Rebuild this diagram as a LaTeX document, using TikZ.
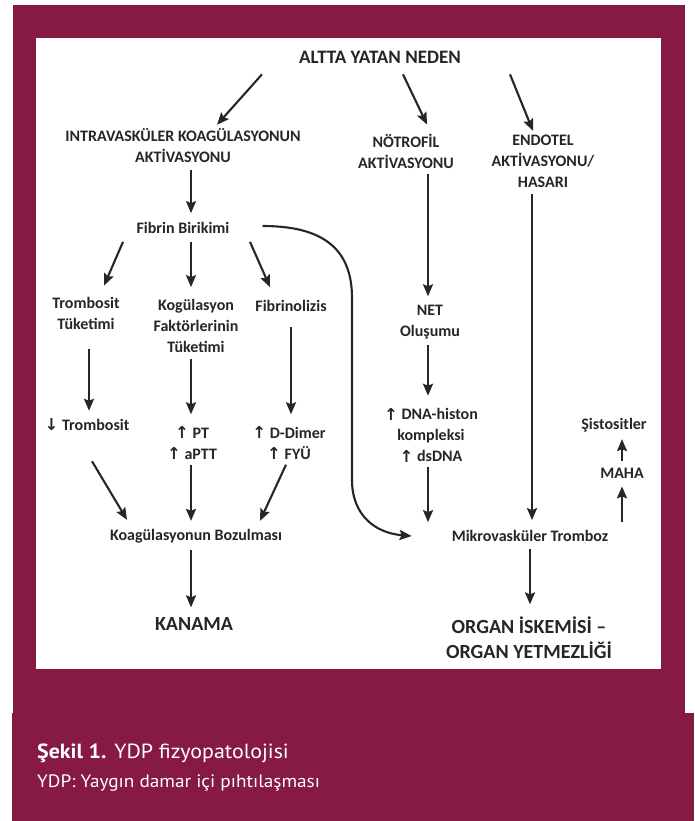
\documentclass[tikz,border=0pt]{standalone}
\usepackage{fontspec}
\setmainfont{Carlito}
\newfontfamily\capwide[FakeStretch=1.07]{PT Sans}
\newfontfamily\arwfont{DejaVu Sans}
\usetikzlibrary{arrows.meta,calc}
\definecolor{frame}{RGB}{134,26,68}
\definecolor{ink}{RGB}{38,38,38}
\newcommand{\up}{{\arwfont\bfseries\fontsize{16.5}{16}\selectfont\raisebox{-0.5pt}{↑}}}
\newcommand{\dn}{{\arwfont\bfseries\fontsize{16.5}{16}\selectfont\raisebox{-0.5pt}{↓}}}
\tikzset{
  lbl/.style={inner sep=0pt, align=center, text=ink, font=\bfseries\fontsize{16}{21}\selectfont},
  big/.style={inner sep=0pt, align=center, text=ink, font=\bfseries\fontsize{20}{25}\selectfont},
  arr/.style={draw=ink, line width=2.1pt, -{Stealth[length=12pt,width=10pt,inset=2pt]}},
  captext/.style={inner sep=0pt, anchor=base west, text=white}
}
\begin{document}
\begin{tikzpicture}[x=1pt,y=-1pt]
% page, frame and white panel
\useasboundingbox (0,0) rectangle (694,821);
\fill[white] (0,0) rectangle (694,821);
\fill[frame] (12.5,5) rectangle (685,713);
\fill[frame] (11.7,713) rectangle (694,821);
\fill[white] (36,38) rectangle (661,669);

% nodes
\node[lbl, font=\bfseries\fontsize{19}{23}\selectfont] (root) at (380,57) {ALTTA YATAN NEDEN};
\node[lbl] (intra) at (183,146) {INTRAVASKÜLER KOAGÜLASYONUN\\AKTİVASYONU};
\node[lbl] (notr) at (406,151) {NÖTROFİL\\AKTİVASYONU};
\node[lbl] (endo) at (543,161.5) {ENDOTEL\\AKTİVASYONU/\\HASARI};
\node[lbl] (fibrin) at (183,228) {Fibrin Birikimi};
\node[lbl] (tromb) at (86,313) {Trombosit\\Tüketimi};
\node[lbl] (kog) at (196,326) {Kogülasyon\\Faktörlerinin\\Tüketimi};
\node[lbl] (fibrino) at (291,306) {Fibrinolizis};
\node[lbl] (netn) at (430,322.5) {NET\\Oluşumu};
\node[lbl] (trdown) at (87,425) {\dn\ Trombosit};
\node[lbl] (pt) at (192,443) {\up\ PT\\\up\ aPTT};
\node[lbl] (ddim) at (289,443) {\up\ D-Dimer\\\up\ FYÜ};
\node[lbl] (dna) at (431,435) {\up\ DNA-histon\\kompleksi\\\up\ dsDNA};
\node[lbl] (sist) at (614,425) {Şistositler};
\node[lbl] (maha) at (622,473) {MAHA};
\node[lbl] (bozul) at (196,536) {Koagülasyonun Bozulması};
\node[lbl] (mikro) at (530,536) {Mikrovasküler Tromboz};
\node[big] (kanama) at (194,624) {KANAMA};
\node[big] (organ) at (529,637.5) {ORGAN İSKEMİSİ –\\ORGAN YETMEZLİĞİ};

% column positions of the vertical connectors
\coordinate (c1) at (89,0);
\coordinate (c2) at (191,0);
\coordinate (c3) at (291,0);
\coordinate (c5) at (428,0);
\coordinate (c6) at (532,0);
\coordinate (c7) at (622,0);

% from the underlying cause
\draw[arr] ($(root.south)+(-118,11)$) -- ($(intra.north)+(34,-4)$);
\draw[arr] ($(root.south)+(23,11)$) -- ($(notr.north)+(21,-9)$);
\draw[arr] ($(root.south)+(130,11)$) -- ($(endo.north)+(-10,-4)$);

% coagulation branch
\draw[arr] ($(intra.south -| c2)+(0,7)$) -- ($(fibrin.north -| c2)+(0,-9)$);
\draw[arr] ($(fibrin.south)+(-60,8)$) -- ($(tromb.north)+(18,-11)$);
\draw[arr] ($(fibrin.south -| c2)+(0,8)$) -- ($(kog.north -| c2)+(0,-12)$);
\draw[arr] ($(fibrin.south)+(67,8)$) -- ($(fibrino.north)+(-21,-13)$);
\draw[arr] ($(tromb.south -| c1)+(0,20)$) -- ($(trdown.north -| c1)+(0,-8)$);
\draw[arr] ($(kog.south -| c2)+(0,6)$) -- ($(pt.north -| c2)+(0,-12)$);
\draw[arr] ($(fibrino.south -| c3)+(0,15)$) -- ($(ddim.north -| c3)+(0,-12)$);
\draw[arr] ($(trdown.south)+(5,30)$) -- ($(bozul.north)+(-69,-9)$);
\draw[arr] ($(pt.south -| c2)+(0,5)$) -- ($(bozul.north -| c2)+(0,-8)$);
\draw[arr] ($(ddim.south)+(-3,5)$) -- ($(bozul.north)+(64,-8)$);
\draw[arr] ($(bozul.south -| c2)+(0,7)$) -- ($(kanama.north -| c2)+(0,-10)$);

% fibrin deposition feeding microvascular thrombosis
\draw[arr] ($(fibrin.east)+(33,-2)$) .. controls (322,226) and (352,248) .. (352,298)
  -- (352,480) .. controls (352,515) and (375,533) .. ($(mikro.west)+(-40,0)$);

% neutrophil branch
\draw[arr] ($(notr.south -| c5)+(0,6)$) -- ($(netn.north -| c5)+(0,-9)$);
\draw[arr] ($(netn.south -| c5)+(0,5)$) -- ($(dna.north -| c5)+(0,-12)$);
\draw[arr] ($(dna.south -| c5)+(0,5)$) -- ($(mikro.north -| c5)+(0,-8)$);

% endothelial branch
\draw[arr] ($(endo.south -| c6)+(0,6)$) -- ($(mikro.north -| c6)+(0,-10)$);

% outcomes
\draw[arr] ($(mikro.south)+(0,7)$) -- ($(organ.north)+(1,-12)$);
\draw[arr] ($(mikro.north -| c7)+(0,-8)$) -- ($(maha.south -| c7)+(0,8)$);
\draw[arr] ($(maha.north -| c7)+(0,-7)$) -- ($(sist.south -| c7)+(0,7)$);

% caption
\node[captext, font=\capwide\fontsize{20.5}{24}\selectfont] (capA) at (37,758) {\textbf{Şekil 1.} YDP fizyopatolojisi};
\node[captext, font=\capwide\fontsize{18}{22}\selectfont] (capB) at (37,787) {YDP: Yaygın damar içi pıhtılaşması};
\end{tikzpicture}
\end{document}
